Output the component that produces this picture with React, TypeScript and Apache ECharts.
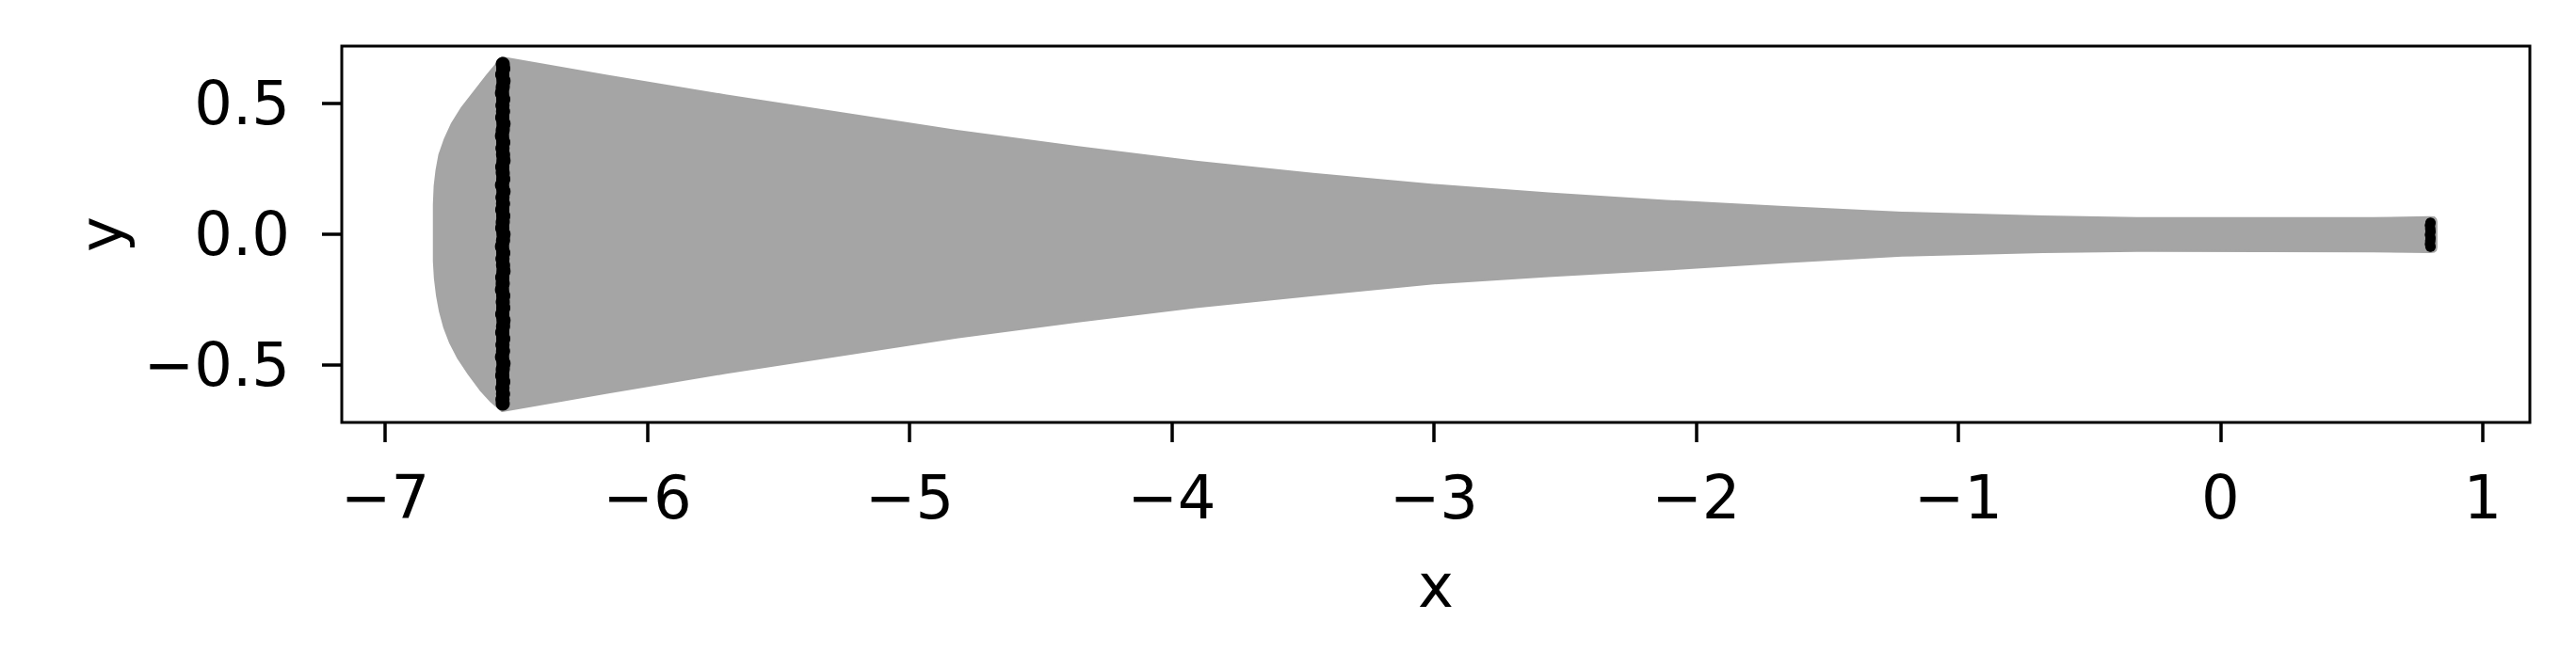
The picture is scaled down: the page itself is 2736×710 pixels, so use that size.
import React, { useEffect, useRef } from "react";
import * as echarts from "echarts";

// Axis ticks
const xTicks = [-7, -6, -5, -4, -3, -2, -1, 0, 1];
const yTicks = [-0.5, 0, 0.5];

// Grey envelope: upper / lower boundary along x
const bandX = [-6.554, -6.153, -5.703, -4.806, -4.357, -3.908, -3.460, -3.010, -2.562, -2.113, -1.664, -1.215, -0.677, -0.318, 0.580, 0.800];
const bandUpper = [0.677, 0.607, 0.532, 0.394, 0.334, 0.278, 0.231, 0.190, 0.157, 0.128, 0.104, 0.083, 0.068, 0.062, 0.062, 0.066];
const bandLower = [-0.677, -0.607, -0.531, -0.393, -0.334, -0.279, -0.233, -0.189, -0.160, -0.135, -0.107, -0.082, -0.068, -0.064, -0.066, -0.068];

// Right rounded end of the envelope (top to bottom)
const endX = [0.815, 0.822, 0.824, 0.824, 0.822, 0.815];
const endY = [0.065, 0.058, 0.048, -0.050, -0.061, -0.067];

// Left curved cap of the envelope (bottom to top)
const capX = [-6.596, -6.637, -6.681, -6.721, -6.752, -6.775, -6.791, -6.802, -6.810, -6.814, -6.814, -6.811, -6.804, -6.793, -6.772, -6.745, -6.707, -6.661, -6.610];
const capY = [-0.640, -0.595, -0.535, -0.475, -0.415, -0.355, -0.295, -0.235, -0.170, -0.103, 0.113, 0.185, 0.245, 0.305, 0.365, 0.424, 0.485, 0.544, 0.610];

// Black point clusters
const leftCluster: [number, number][] = [
  [-6.551, 0.652], [-6.549, 0.634], [-6.553, 0.611], [-6.548, 0.587], [-6.551, 0.563],
  [-6.554, 0.540], [-6.549, 0.517], [-6.552, 0.493], [-6.550, 0.470], [-6.553, 0.446],
  [-6.548, 0.423], [-6.551, 0.399], [-6.554, 0.376], [-6.549, 0.352], [-6.552, 0.329],
  [-6.550, 0.305], [-6.548, 0.282], [-6.553, 0.258], [-6.551, 0.235], [-6.549, 0.211],
  [-6.554, 0.188], [-6.548, 0.164], [-6.552, 0.141], [-6.550, 0.117], [-6.553, 0.094],
  [-6.549, 0.070], [-6.551, 0.047], [-6.553, 0.023], [-6.548, 0.000], [-6.550, -0.024],
  [-6.554, -0.047], [-6.549, -0.071], [-6.552, -0.094], [-6.550, -0.118], [-6.548, -0.141],
  [-6.553, -0.165], [-6.551, -0.188], [-6.554, -0.212], [-6.549, -0.235], [-6.551, -0.259],
  [-6.549, -0.282], [-6.553, -0.306], [-6.548, -0.329], [-6.550, -0.353], [-6.553, -0.376],
  [-6.549, -0.400], [-6.552, -0.423], [-6.550, -0.447], [-6.554, -0.470], [-6.548, -0.494],
  [-6.551, -0.517], [-6.553, -0.541], [-6.549, -0.564], [-6.552, -0.588], [-6.550, -0.611],
  [-6.552, -0.632], [-6.551, -0.648],
];
const rightCluster: [number, number][] = [
  [0.801, 0.044], [0.799, 0.034], [0.800, 0.022], [0.801, 0.010], [0.799, -0.002],
  [0.801, -0.014], [0.800, -0.026], [0.799, -0.038], [0.801, -0.048],
];

const fmtMinus = (s: string) => s.replace("-", "\u2212");

export default function App() {
  const ref = useRef<HTMLDivElement>(null);
  useEffect(() => {
    if (!ref.current) return;
    const chart = echarts.init(ref.current, null, { renderer: "svg" });

    const outline: [number, number][] = [];
    bandX.forEach((x, i) => outline.push([x, bandUpper[i]]));
    endX.forEach((x, i) => outline.push([x, endY[i]]));
    for (let i = bandX.length - 1; i >= 0; i--) outline.push([bandX[i], bandLower[i]]);
    capX.forEach((x, i) => outline.push([x, capY[i]]));

    const font = "DejaVu Sans";
    const clusterSeries = (data: [number, number][], width: number, size: number) => [
      {
        type: "line",
        data,
        showSymbol: false,
        symbol: "none",
        silent: true,
        z: 3,
        lineStyle: { color: "#000", width, cap: "round", join: "round", opacity: 1 },
      },
      {
        type: "scatter",
        data,
        symbol: "circle",
        symbolSize: size,
        itemStyle: { color: "#000", opacity: 1, borderWidth: 0 },
        silent: true,
        z: 4,
      },
    ];

    chart.setOption({
      animation: false,
      backgroundColor: "#ffffff",
      grid: {
        left: 363,
        top: 49,
        width: 2324,
        height: 400,
        show: true,
        borderColor: "#000",
        borderWidth: 3,
        backgroundColor: "transparent",
        containLabel: false,
      },
      xAxis: {
        type: "value",
        min: -7.165,
        max: 1.18,
        name: "x",
        nameLocation: "middle",
        nameGap: 142,
        nameTextStyle: { fontFamily: font, fontSize: 64, color: "#000" },
        axisLine: { show: false, onZero: false },
        splitLine: { show: false },
        axisTick: {
          show: true,
          inside: false,
          length: 21,
          lineStyle: { color: "#000", width: 3.5 },
          customValues: xTicks,
        },
        axisLabel: {
          show: true,
          margin: 48,
          fontFamily: font,
          fontSize: 64,
          color: "#000",
          customValues: xTicks,
          formatter: (v: number) => fmtMinus(String(v)),
        },
      },
      yAxis: {
        type: "value",
        min: -0.72,
        max: 0.72,
        name: "y",
        nameLocation: "middle",
        nameRotate: 90,
        nameGap: 223,
        nameTextStyle: { fontFamily: font, fontSize: 64, color: "#000" },
        axisLine: { show: false, onZero: false },
        splitLine: { show: false },
        axisTick: {
          show: true,
          inside: false,
          length: 21,
          lineStyle: { color: "#000", width: 3.5 },
          customValues: yTicks,
        },
        axisLabel: {
          show: true,
          margin: 55,
          fontFamily: font,
          fontSize: 64,
          color: "#000",
          customValues: yTicks,
          formatter: (v: number) => fmtMinus(v.toFixed(1)),
        },
      },
      series: [
        {
          type: "custom",
          coordinateSystem: "cartesian2d",
          data: [[0, 0]],
          silent: true,
          z: 1,
          renderItem: (_params: any, api: any) => ({
            type: "polygon",
            shape: { points: outline.map((p) => api.coord(p)) },
            style: {
              fill: "#a5a5a5",
              stroke: "#a5a5a5",
              lineWidth: 2,
              lineJoin: "round",
            },
          }),
        },
        ...clusterSeries(leftCluster, 14, 15),
        ...clusterSeries(rightCluster, 10, 11),
      ],
    });
    return () => chart.dispose();
  }, []);

  return (
    <div
      ref={ref}
      style={{ position: "absolute", left: 0, top: 0, width: 2736, height: 710, background: "#fff" }}
    />
  );
}
